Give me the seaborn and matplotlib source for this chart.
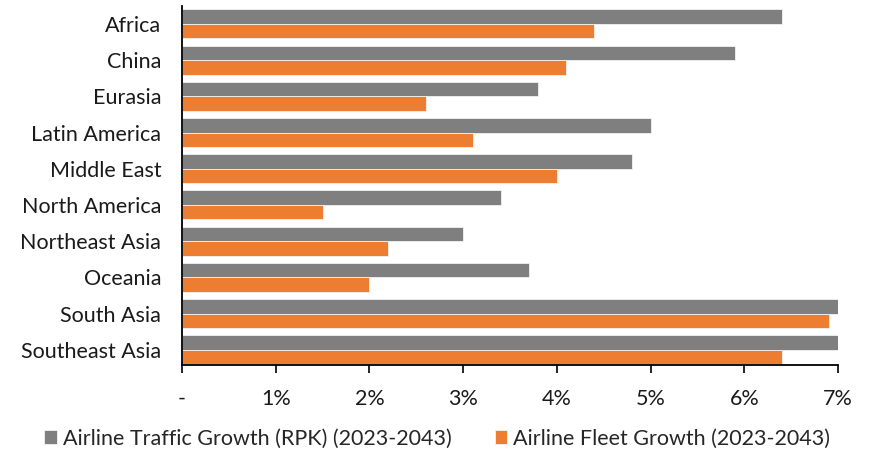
import matplotlib
matplotlib.use("Agg")
import matplotlib.pyplot as plt
import pandas as pd
import seaborn as sns

regions = ["Africa", "China", "Eurasia", "Latin America", "Middle East",
           "North America", "Northeast Asia", "Oceania", "South Asia", "Southeast Asia"]
traffic_growth = [6.4, 5.9, 3.8, 5.0, 4.8, 3.4, 3.0, 3.7, 7.0, 7.0]
fleet_growth = [4.4, 4.1, 2.6, 3.1, 4.0, 1.5, 2.2, 2.0, 6.9, 6.4]
series_names = ["Airline Traffic Growth (RPK) (2023-2043)", "Airline Fleet Growth (2023-2043)"]
tick_labels = ["-", "1%", "2%", "3%", "4%", "5%", "6%", "7%"]

df = pd.DataFrame({
    "Region": regions * 2,
    "Growth": traffic_growth + fleet_growth,
    "Series": [series_names[0]] * len(regions) + [series_names[1]] * len(regions),
})

sns.set_theme(style="white")
plt.rcParams["font.family"] = ["Lato", "DejaVu Sans"]

FS = 15.5

fig = plt.figure(figsize=(8.69, 4.5), dpi=100)
ax = fig.add_axes([0.2094, 0.189, 0.755, 0.798])

palette = {series_names[0]: "#7F7F7F", series_names[1]: "#ED7D31"}
sns.barplot(data=df, y="Region", x="Growth", hue="Series", order=regions,
            hue_order=series_names, palette=palette, orient="h", width=0.8,
            saturation=1, edgecolor="#f2f2f2", linewidth=0.6, ax=ax)

ax.set_xlim(0, 7)
ax.set_ylim(9.42, -0.5)
ax.set_xticks(range(len(tick_labels)))
ax.set_xticklabels(tick_labels, fontsize=FS, color="#1a1a1a")
ax.tick_params(axis="x", direction="out", length=6, width=1.2, color="black", pad=11, bottom=True)
ax.tick_params(axis="y", length=0, labelsize=FS, labelcolor="#1a1a1a", pad=15)
ax.set_xlabel("")
ax.set_ylabel("")

for side in ("top", "right"):
    ax.spines[side].set_visible(False)
for side in ("left", "bottom"):
    ax.spines[side].set_color("black")
    ax.spines[side].set_linewidth(1.3)

handles, labels = ax.get_legend_handles_labels()
ax.legend(handles, labels, loc="lower center", bbox_to_anchor=(0.503, -0.04),
          bbox_transform=fig.transFigure, ncol=2, frameon=False, fontsize=FS,
          handlelength=0.6, handleheight=0.6, handletextpad=0.25, columnspacing=2.0)

fig.savefig("out.png", dpi=100)
